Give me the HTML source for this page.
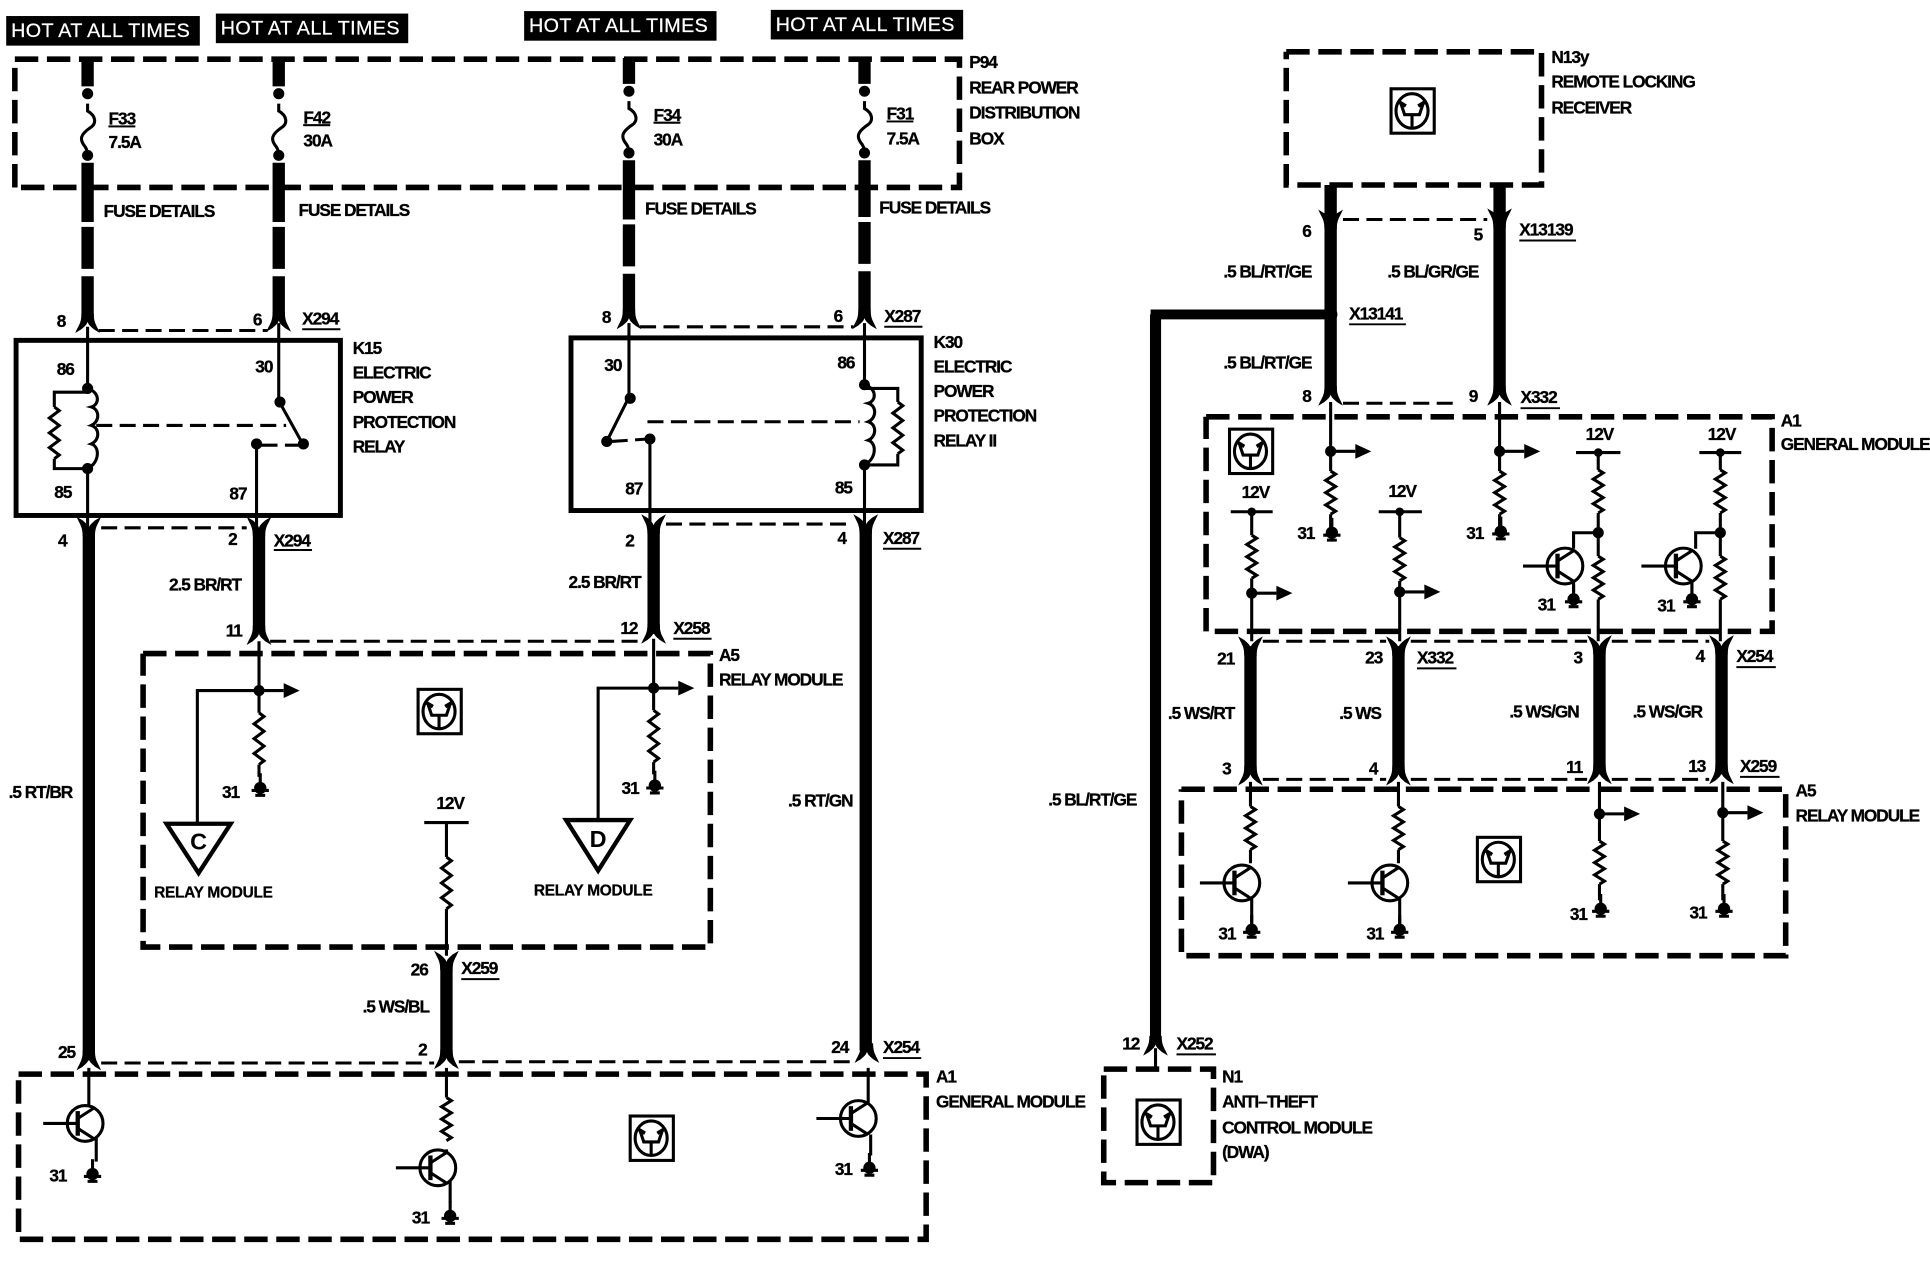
<!DOCTYPE html>
<html><head><meta charset="utf-8"><style>
html,body{margin:0;padding:0;background:#fff}
svg{display:block}
text{font-family:"Liberation Sans",sans-serif;font-weight:bold;font-size:14px;fill:#000;letter-spacing:-.85px;stroke:#000;stroke-width:.25}
.h{font-size:16px;font-weight:normal;fill:#fff;letter-spacing:.3px;stroke:#fff;stroke-width:.2}
.s{font-size:12.5px;letter-spacing:-.2px}
.m{text-anchor:middle}
.b{fill:none;stroke:#000;stroke-width:4.5;stroke-dasharray:19 7}
.c{fill:none;stroke:#000;stroke-width:2.5;stroke-dasharray:13 6}
.t{fill:none;stroke:#000;stroke-width:2.5}
.w{fill:none;stroke:#000;stroke-width:10}
.u{stroke:#000;stroke-width:1.6}
</style></head><body>
<svg xmlns="http://www.w3.org/2000/svg" width="1930" height="1264" viewBox="0 0 1565 1025">
<defs>
<path id="r" class="t" d="M0 0l4 3-8 6 8 6-8 6 8 6-8 6 8 6-4 3"/>
<path id="q" class="t" d="M0 0l4 2.5-8 5 8 5-8 5 8 5-8 5 8 5-4 2.5"/>
<g id="fd"><path d="M-10 11C-7 4-5 3-5-5H5C5 3 7 4 10 11L5 8C3 6 1 5 0 2C-1 5-3 6-5 8Z"/></g>
<g id="fu"><path d="M-10-11C-7-4-5-3-5 5H5C5-3 7-4 10-11L5-8C3-6 1-5 0-2C-1-5-3-6-5-8Z"/></g>
<g id="g"><circle cx="0" cy="0" r="5"/><path d="M0-12V0" class="t"/><path d="M-7 2H7M-4 6H4" stroke="#000" stroke-width="2.5"/></g>
<g id="x"><circle r="14.5" fill="#fff" stroke="#000" stroke-width="2.5"/><path d="M-34 0H-6" class="t"/><path d="M-6-10V10" stroke="#000" stroke-width="3.5"/><path d="M-6-4L8-13M-6 4L8 13" class="t"/></g>
<g id="i"><rect x="-17" y="-18" width="35" height="36" fill="#fff" stroke="#000" stroke-width="2.5"/><ellipse rx="13" ry="14" fill="none" stroke="#000" stroke-width="2.5"/><path d="M-9-6L-6 3H6L9-6M0 3V14" class="t"/><path d="M-10-7l5 3M10-7l-5 3" stroke="#000" stroke-width="3"/></g>
<g id="a"><circle r="4.5"/><path d="M0 0H20" class="t"/><path d="M20-6L33 0 20 6Z"/></g>
<path id="fz" class="t" d="M0-14V-8C7-4 7 2 3 5C-6 11-7 15-2 21C0 24 0 26 0 30"/>
</defs>

<!-- HOT boxes -->
<rect x="5" y="13" width="157" height="24"/><text class="h" x="9" y="30">HOT AT ALL TIMES</text>
<rect x="175" y="11" width="156" height="24"/><text class="h" x="179" y="28">HOT AT ALL TIMES</text>
<rect x="425" y="9" width="156" height="24"/><text class="h" x="429" y="26">HOT AT ALL TIMES</text>
<rect x="625" y="8" width="156" height="24"/><text class="h" x="629" y="25">HOT AT ALL TIMES</text>

<!-- P94 -->
<path class="b" d="M12 152V48H778V152H12"/>
<text x="786" y="55">P94</text><text x="786" y="76">REAR POWER</text><text x="786" y="96">DISTRIBUTION</text><text x="786" y="117">BOX</text>

<!-- top wires -->
<path class="w" d="M71 47V70M71 132V180M71 184V218M71 224V258"/>
<path class="w" d="M226 47V70M226 132V180M226 184V218M226 224V258"/>
<path class="w" d="M510 47V68M510 130V178M510 182V216M510 222V256"/>
<path class="w" d="M701 47V68M701 130V176M701 180V214M701 220V256"/>
<g><circle cx="71" cy="76" r="4.5"/><circle cx="71" cy="126" r="4.5"/><use href="#fz" x="71" y="98"/></g>
<g><circle cx="226" cy="76" r="4.5"/><circle cx="226" cy="126" r="4.5"/><use href="#fz" x="226" y="98"/></g>
<g><circle cx="510" cy="74" r="4.5"/><circle cx="510" cy="124" r="4.5"/><use href="#fz" x="510" y="96"/></g>
<g><circle cx="701" cy="74" r="4.5"/><circle cx="701" cy="124" r="4.5"/><use href="#fz" x="701" y="96"/></g>
<text x="88" y="101" text-decoration="underline">F33</text><text x="88" y="120">7.5A</text>
<text x="246" y="100" text-decoration="underline">F42</text><text x="246" y="119">30A</text>
<text x="530" y="98" text-decoration="underline">F34</text><text x="530" y="118">30A</text>
<text x="719" y="97" text-decoration="underline">F31</text><text x="719" y="117">7.5A</text>
<text x="84" y="176">FUSE DETAILS</text><text x="242" y="175">FUSE DETAILS</text><text x="523" y="174">FUSE DETAILS</text><text x="713" y="173">FUSE DETAILS</text>

<!-- forks top of relays -->
<use href="#fd" x="71" y="259"/><use href="#fd" x="226" y="258"/><use href="#fd" x="510" y="256"/><use href="#fd" x="701" y="256"/>
<path class="c" d="M80 268H217M519 265H692"/>
<text x="46" y="265">8</text><text x="205" y="264">6</text><text x="488" y="262">8</text><text x="676" y="261">6</text>
<text x="245" y="263">X294</text><path class="u" d="M245 267H276"/>
<text x="717" y="261">X287</text><path class="u" d="M717 265H748"/>

<!-- K15 -->
<rect x="13" y="276" width="263" height="142" fill="none" stroke="#000" stroke-width="4"/>
<path class="t" d="M71 265V315M71 380V428M44 330V318H71M44 372V380H71"/>
<use href="#r" x="44" y="330"/>
<path class="t" d="M71 315C81 318 81 328 74 330C81 332 81 342 74 345C81 347 81 357 74 360C81 362 81 375 71 380"/>
<circle cx="71" cy="315" r="4.5"/><circle cx="71" cy="380" r="4.5"/>
<path class="c" d="M78 345H232"/>
<path class="t" d="M226 262V325L246 361M208 360V428"/>
<circle cx="227" cy="326" r="4.5"/><circle cx="246" cy="360" r="4.5"/><circle cx="208" cy="360" r="4.5"/>
<path class="c" stroke-dasharray="6 4" d="M212 361H242"/>
<text x="46" y="304">86</text><text x="207" y="302">30</text><text x="44" y="404">85</text><text x="186" y="405">87</text>
<text x="286" y="287">K15</text><text x="286" y="307">ELECTRIC</text><text x="286" y="327">POWER</text><text x="286" y="347">PROTECTION</text><text x="286" y="367">RELAY</text>

<!-- K30 -->
<rect x="463" y="274" width="284" height="140" fill="none" stroke="#000" stroke-width="4"/>
<path class="t" d="M510 262V322L492 358M527 356V428M701 262V312M701 377V428M728 326V315H701M728 368V377H701"/>
<use href="#r" x="728" y="326"/>
<path class="t" d="M701 312C711 315 711 325 704 327C711 329 711 339 704 342C711 344 711 354 704 357C711 359 711 372 701 377"/>
<circle cx="511" cy="323" r="4.5"/><circle cx="492" cy="358" r="4.5"/><circle cx="527" cy="356" r="4.5"/><circle cx="701" cy="312" r="4.5"/><circle cx="701" cy="377" r="4.5"/>
<path class="c" stroke-dasharray="6 4" d="M496 358L525 356"/>
<path class="c" d="M525 342H697"/>
<text x="490" y="301">30</text><text x="679" y="299">86</text><text x="507" y="401">87</text><text x="677" y="400">85</text>
<text x="757" y="282">K30</text><text x="757" y="302">ELECTRIC</text><text x="757" y="322">POWER</text><text x="757" y="342">PROTECTION</text><text x="757" y="362">RELAY II</text>

<!-- below relays -->
<use href="#fu" x="72" y="430"/><use href="#fu" x="210" y="430"/><use href="#fu" x="530" y="428"/><use href="#fu" x="702" y="428"/>
<path class="c" d="M82 428H200M540 425H692"/>
<path class="w" d="M72 430V860M210 430V514M530 428V514M702 428V852M362 782V858"/>
<text x="47" y="443">4</text><text x="185" y="442">2</text><text x="507" y="443">2</text><text x="679" y="441">4</text>
<text x="222" y="443">X294</text><path class="u" d="M222 446H253"/>
<text x="716" y="441">X287</text><path class="u" d="M716 445H747"/>
<text x="137" y="479">2.5 BR/RT</text><text x="461" y="477">2.5 BR/RT</text>
<text x="7" y="647">.5 RT/BR</text><text x="639" y="654">.5 RT/GN</text>
<text x="294" y="821">.5 WS/BL</text>
<text x="183" y="516">11</text><text x="503" y="514">12</text>
<text x="546" y="514">X258</text><path class="u" d="M546 518H577"/>

<!-- A5 left -->
<use href="#fd" x="210" y="512"/><use href="#fd" x="530" y="511"/>
<path class="c" d="M219 520H521"/>
<path class="b" d="M116 530H576V768H116V530"/>
<text x="583" y="536">A5</text><text x="583" y="556">RELAY MODULE</text>
<path class="t" d="M210 520V578M210 620V630M530 518V576M530 618V628M160 668V560H210M485 665V558H530"/>
<use href="#a" x="210" y="560"/><use href="#a" x="530" y="558"/>
<use href="#r" x="210" y="578"/><use href="#r" x="530" y="576"/>
<use href="#g" x="211" y="639"/><use href="#g" x="531" y="637"/>
<text x="180" y="647">31</text><text x="504" y="644">31</text>
<path fill="#fff" stroke="#000" stroke-width="3.5" d="M135 668H187L161 708ZM459 665H511L485 706Z"/>
<text class="m" x="161" y="689" style="font-size:19px;font-weight:bold;letter-spacing:0;stroke-width:0">C</text><text class="m" x="485" y="687" style="font-size:19px;font-weight:bold;letter-spacing:0;stroke-width:0">D</text>
<text class="s m" x="173" y="728">RELAY MODULE</text><text class="s m" x="481" y="726">RELAY MODULE</text>
<use href="#i" x="356" y="577"/>
<text class="m" x="365" y="656">12V</text>
<path class="t" d="M344 667H380M362 667V695M362 737V775"/>
<use href="#r" x="362" y="695"/>
<use href="#fu" x="362" y="782"/>
<text x="333" y="791">26</text><text x="374" y="790">X259</text><path class="u" d="M374 794H405"/>

<!-- A1 lower -->
<use href="#fd" x="72" y="857"/><use href="#fd" x="362" y="856"/>
<use href="#fd" x="703" y="851"/>
<path class="c" d="M82 862H352M372 861H693"/>
<text x="47" y="858">25</text><text x="339" y="856">2</text><text x="674" y="854">24</text>
<text x="716" y="854">X254</text><path class="u" d="M716 858H747"/>
<path class="b" d="M15 871H751V1005H15V871"/>
<text x="759" y="878">A1</text><text x="759" y="898">GENERAL MODULE</text>
<path class="t" d="M72 866V898M78 922V942M362 866V890M362 932V934M365 958V975M704 866V895M706 920V937"/>
<use href="#x" x="69" y="911"/><use href="#x" x="355" y="947"/><use href="#x" x="696" y="907"/>
<use href="#q" x="362" y="890"/>
<use href="#g" x="75" y="952"/><use href="#g" x="365" y="986"/><use href="#g" x="705" y="947"/>
<text x="40" y="958">31</text><text x="334" y="992">31</text><text x="677" y="953">31</text>
<use href="#i" x="528" y="923"/>

<!-- N13y -->
<path class="b" d="M1043 42H1250V150H1043V42"/>
<use href="#i" x="1145" y="90"/>
<text x="1258" y="51">N13y</text><text x="1258" y="71">REMOTE LOCKING</text><text x="1258" y="92">RECEIVER</text>
<path class="w" d="M1079 150V320M1216 150V320"/>
<use href="#fu" x="1079" y="181"/><use href="#fu" x="1216" y="180"/>
<path class="c" d="M1089 178H1206"/>
<text x="1056" y="192">6</text><text x="1195" y="195">5</text>
<text x="1232" y="191">X13139</text><path class="u" d="M1232 195H1278"/>
<text x="992" y="225">.5 BL/RT/GE</text><text x="1125" y="225">.5 BL/GR/GE</text>
<path fill="none" stroke="#000" stroke-width="8" d="M1079 255H937V845"/>
<path class="w" style="stroke-width:9" d="M937 255V845"/>
<circle cx="1079" cy="255" r="5.5"/>
<text x="1094" y="259">X13141</text><path class="u" d="M1094 263H1140"/>
<text x="992" y="299">.5 BL/RT/GE</text>
<use href="#fd" x="1079" y="318"/><use href="#fd" x="1216" y="318"/>
<text x="1056" y="326">8</text><text x="1191" y="326">9</text>
<text x="1233" y="327">X332</text><path class="u" d="M1233 331H1265"/>
<path class="c" d="M1089 327H1183"/>

<!-- A1 right -->
<path class="b" d="M978 338H1437V512H978V338"/>
<text x="1444" y="346">A1</text><text x="1444" y="365">GENERAL MODULE</text>
<use href="#i" x="1014" y="366"/>
<path class="t" d="M1079 326V382M1079 417V430M1216 326V382M1216 417V430"/>
<use href="#a" x="1079" y="366"/><use href="#a" x="1216" y="366"/>
<use href="#q" x="1079" y="382"/><use href="#q" x="1216" y="382"/>
<use href="#g" x="1080" y="432"/><use href="#g" x="1217" y="431"/>
<text x="1052" y="437">31</text><text x="1189" y="437">31</text>
<path class="t" d="M998 415H1032M1015 415V434M1015 469V520M1118 415H1153M1135 415V436M1135 471V520"/>
<use href="#q" x="1015" y="434"/><use href="#q" x="1135" y="436"/>
<use href="#a" x="1015" y="481"/><use href="#a" x="1135" y="480"/>
<text class="m" x="1018" y="404">12V</text><text class="m" x="1137" y="403">12V</text>
<text class="m" x="1297" y="357">12V</text><text class="m" x="1396" y="357">12V</text>
<path class="t" d="M1278 367H1314M1296 367V381M1296 416V451M1296 486V520M1378 367H1412M1395 367V381M1395 416V451M1395 486V520M1276 445V432H1296M1375 445V432H1395"/>
<use href="#q" x="1296" y="381"/><use href="#q" x="1296" y="451"/>
<use href="#q" x="1395" y="381"/><use href="#q" x="1395" y="451"/>
<circle cx="1296" cy="367" r="3.5"/><circle cx="1395" cy="367" r="3.5"/><circle cx="1015" cy="415" r="3.5"/><circle cx="1135" cy="415" r="3.5"/>
<circle cx="1296" cy="432" r="4.5"/><circle cx="1395" cy="432" r="4.5"/>
<use href="#x" x="1269" y="459"/><use href="#x" x="1365" y="459"/>
<path class="t" d="M1276 471V480M1372 471V482"/>
<use href="#g" x="1276" y="486"/><use href="#g" x="1372" y="486"/>
<text x="1247" y="495">31</text><text x="1344" y="496">31</text>

<!-- mid connectors right -->
<use href="#fu" x="1014" y="527"/><use href="#fu" x="1134" y="527"/><use href="#fu" x="1297" y="526"/><use href="#fu" x="1396" y="526"/>
<path class="c" d="M1024 520H1124M1144 520H1287M1307 520H1386"/>
<path class="w" d="M1014 524V628M1134 524V628M1297 524V628M1396 524V628"/>
<text x="987" y="539">21</text><text x="1107" y="538">23</text><text x="1276" y="538">3</text><text x="1375" y="537">4</text>
<text x="1149" y="538">X332</text><path class="u" d="M1149 542H1181"/>
<text x="1408" y="537">X254</text><path class="u" d="M1408 541H1440"/>
<text x="947" y="583">.5 WS/RT</text><text x="1086" y="583">.5 WS</text><text x="1224" y="582">.5 WS/GN</text><text x="1324" y="582">.5 WS/GR</text>
<text x="850" y="653">.5 BL/RT/GE</text>
<use href="#fd" x="1014" y="626"/><use href="#fd" x="1134" y="626"/><use href="#fd" x="1297" y="625"/><use href="#fd" x="1396" y="625"/>
<path class="c" d="M1024 632H1124M1144 632H1287M1307 632H1386"/>
<text x="991" y="628">3</text><text x="1110" y="628">4</text><text x="1270" y="627">11</text><text x="1369" y="626">13</text>
<text x="1411" y="626">X259</text><path class="u" d="M1411 630H1443"/>

<!-- A5 right -->
<path class="b" d="M958 640H1448V775H958V640"/>
<text x="1456" y="646">A5</text><text x="1456" y="666">RELAY MODULE</text>
<path class="t" d="M1014 634V654M1014 689V700M1134 634V654M1134 689V700M1297 634V682M1297 717V730M1397 634V682M1397 717V730"/>
<use href="#q" x="1014" y="654"/><use href="#q" x="1134" y="654"/><use href="#q" x="1297" y="682"/><use href="#q" x="1397" y="682"/>
<use href="#a" x="1297" y="660"/><use href="#a" x="1397" y="659"/>
<use href="#x" x="1007" y="716"/><use href="#x" x="1127" y="716"/>
<path class="t" d="M1015 728V750M1135 728V750"/>
<use href="#g" x="1015" y="754"/><use href="#g" x="1135" y="754"/>
<use href="#g" x="1298" y="737"/><use href="#g" x="1398" y="737"/>
<text x="988" y="762">31</text><text x="1108" y="762">31</text><text x="1273" y="746">31</text><text x="1370" y="745">31</text>
<use href="#i" x="1215" y="697"/>

<!-- N1 -->
<use href="#fd" x="937" y="845"/>
<path class="t" d="M937 850V868"/>
<text x="910" y="851">12</text><text x="954" y="851">X252</text><path class="u" d="M954 855H986"/>
<path class="b" d="M895 867H984V959H895V867"/>
<use href="#i" x="939" y="910"/>
<text x="991" y="878">N1</text><text x="991" y="898">ANTI–THEFT</text><text x="991" y="919">CONTROL MODULE</text><text x="991" y="939">(DWA)</text>
</svg>
</body></html>
